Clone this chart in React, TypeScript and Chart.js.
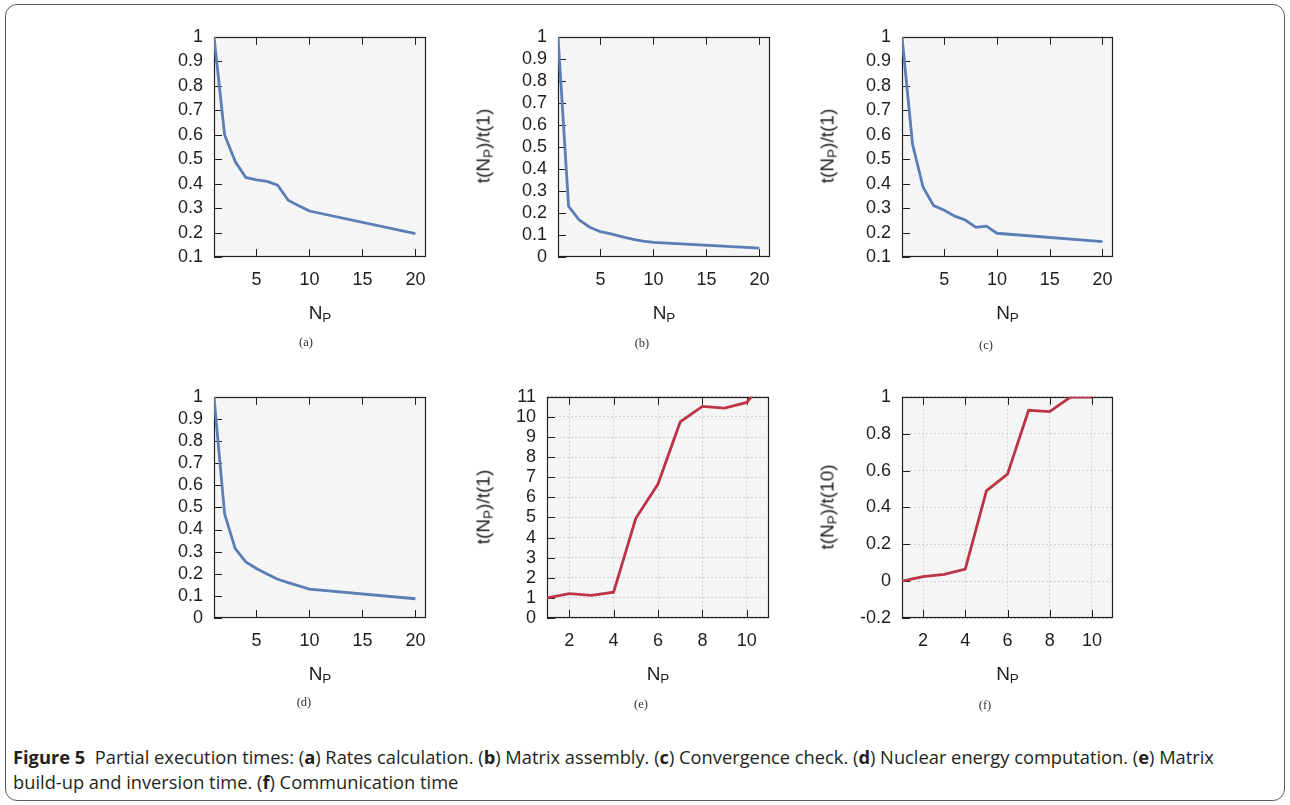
import React, { useEffect, useRef } from "react";
import { Chart, registerables } from "chart.js";

Chart.register(...registerables);

// ---------- data ----------
const NP_TO_20 = [1, 2, 3, 4, 5, 6, 7, 8, 9, 10, 20];
const RATES_CALC = [1.0, 0.6, 0.49, 0.425, 0.415, 0.409, 0.394, 0.332, 0.309, 0.288, 0.196];
const MATRIX_ASSEMBLY = [1.0, 0.23, 0.168, 0.135, 0.115, 0.105, 0.093, 0.081, 0.072, 0.066, 0.04];
const CONVERGENCE_CHECK = [1.0, 0.561, 0.385, 0.31, 0.291, 0.267, 0.251, 0.221, 0.226, 0.197, 0.163];
const NUCLEAR_ENERGY = [1.0, 0.471, 0.314, 0.254, 0.224, 0.199, 0.175, 0.16, 0.145, 0.131, 0.087];

const NP_TO_11 = [1, 2, 3, 4, 5, 6, 7, 8, 9, 10, 11];
const MATRIX_BUILDUP = [1.0, 1.21, 1.13, 1.28, 4.96, 6.66, 9.75, 10.52, 10.44, 10.72, 12.1];

const NP_TO_10 = [1, 2, 3, 4, 5, 6, 7, 8, 9, 10];
const COMMUNICATION = [0.0, 0.024, 0.037, 0.065, 0.49, 0.58, 0.927, 0.92, 1.0, 0.998];

const X_TICKS_20 = [5, 10, 15, 20];
const X_TICKS_10 = [2, 4, 6, 8, 10];
const Y_TICKS_01_1 = [0.1, 0.2, 0.3, 0.4, 0.5, 0.6, 0.7, 0.8, 0.9, 1];
const Y_TICKS_0_1 = [0, 0.1, 0.2, 0.3, 0.4, 0.5, 0.6, 0.7, 0.8, 0.9, 1];
const Y_TICKS_0_11 = [0, 1, 2, 3, 4, 5, 6, 7, 8, 9, 10, 11];
const Y_TICKS_M02_1 = [-0.2, 0, 0.2, 0.4, 0.6, 0.8, 1];

// ---------- style ----------
const BLUE = "#5a7eb5";
const RED = "#bc3445";
const PLOT_BG = "#f5f5f5";
const AXIS_COLOR = "#1e1e1e";
const GRID_COLOR = "#d2d2d2";
const TICK_LEN = 8;
const SANS = "'Liberation Sans', Arial, sans-serif";

const PAD_L = 95;
const PAD_T = 20;
const PAD_R = 20;
const PAD_B = 50;

type Panel = {
  id: string;
  xs: number[];
  ys: number[];
  color: string;
  xMin: number;
  xMax: number;
  yMin: number;
  yMax: number;
  xTicks: number[];
  yTicks: number[];
  grid: boolean;
  rect: [number, number, number, number];
  yDen: string | null;
  yTitleX: number;
  tag: string;
  tagPos: [number, number];
};

const PANELS: Panel[] = [
  { id: "a", xs: NP_TO_20, ys: RATES_CALC, color: BLUE, xMin: 1, xMax: 21, yMin: 0.1, yMax: 1, xTicks: X_TICKS_20, yTicks: Y_TICKS_01_1, grid: false, rect: [214, 35, 426, 257], yDen: null, yTitleX: 0, tag: "(a)", tagPos: [306, 342] },
  { id: "b", xs: NP_TO_20, ys: MATRIX_ASSEMBLY, color: BLUE, xMin: 1, xMax: 21, yMin: 0, yMax: 1, xTicks: X_TICKS_20, yTicks: Y_TICKS_0_1, grid: false, rect: [558, 35, 770, 257], yDen: "1", yTitleX: 483, tag: "(b)", tagPos: [642, 343] },
  { id: "c", xs: NP_TO_20, ys: CONVERGENCE_CHECK, color: BLUE, xMin: 1, xMax: 21, yMin: 0.1, yMax: 1, xTicks: X_TICKS_20, yTicks: Y_TICKS_01_1, grid: false, rect: [902, 35, 1113, 257], yDen: "1", yTitleX: 827, tag: "(c)", tagPos: [986, 345] },
  { id: "d", xs: NP_TO_20, ys: NUCLEAR_ENERGY, color: BLUE, xMin: 1, xMax: 21, yMin: 0, yMax: 1, xTicks: X_TICKS_20, yTicks: Y_TICKS_0_1, grid: false, rect: [214, 395, 426, 618], yDen: null, yTitleX: 0, tag: "(d)", tagPos: [304, 702] },
  { id: "e", xs: NP_TO_11, ys: MATRIX_BUILDUP, color: RED, xMin: 1, xMax: 11, yMin: 0, yMax: 11, xTicks: X_TICKS_10, yTicks: Y_TICKS_0_11, grid: true, rect: [547, 395, 769, 618], yDen: "1", yTitleX: 483, tag: "(e)", tagPos: [641, 704] },
  { id: "f", xs: NP_TO_10, ys: COMMUNICATION, color: RED, xMin: 1, xMax: 11, yMin: -0.2, yMax: 1, xTicks: X_TICKS_10, yTicks: Y_TICKS_M02_1, grid: true, rect: [902, 395, 1113, 618], yDen: "10", yTitleX: 827, tag: "(f)", tagPos: [985, 705] },
];

const fmt = (v: number) => String(Math.round(v * 10) / 10);

function decoPlugin(p: Panel) {
  return {
    id: "deco_" + p.id,
    beforeDraw(chart: any) {
      const { ctx, chartArea } = chart;
      const { left, top, right, bottom } = chartArea;
      ctx.save();
      ctx.fillStyle = PLOT_BG;
      ctx.fillRect(left, top, right - left, bottom - top);
      ctx.restore();
    },
    beforeDatasetsDraw(chart: any) {
      const { ctx, chartArea } = chart;
      const { left, top, right, bottom } = chartArea;
      const xs = chart.scales.x;
      const ys = chart.scales.y;
      ctx.save();
      ctx.strokeStyle = AXIS_COLOR;
      ctx.lineWidth = 1;
      ctx.beginPath();
      for (const v of p.xTicks) {
        const px = Math.round(xs.getPixelForValue(v)) + 0.5;
        ctx.moveTo(px, bottom);
        ctx.lineTo(px, bottom - TICK_LEN);
        ctx.moveTo(px, top);
        ctx.lineTo(px, top + TICK_LEN);
      }
      for (const v of p.yTicks) {
        const py = Math.round(ys.getPixelForValue(v)) + 0.5;
        ctx.moveTo(left, py);
        ctx.lineTo(left + TICK_LEN, py);
      }
      ctx.stroke();
      ctx.lineWidth = 1.2;
      ctx.strokeRect(Math.round(left) + 0.5, Math.round(top) + 0.5, Math.round(right - left) - 1, Math.round(bottom - top) - 1);
      ctx.restore();
    },
  };
}

function PanelChart({ p }: { p: Panel }) {
  const ref = useRef<HTMLCanvasElement>(null);
  const [L, T, R, B] = p.rect;
  const W = R - L + PAD_L + PAD_R;
  const H = B - T + PAD_T + PAD_B;

  useEffect(() => {
    const gridOpts = p.grid
      ? { display: true, drawOnChartArea: true, drawTicks: false, color: GRID_COLOR, lineWidth: 1 }
      : { display: false, drawTicks: false };
    const borderOpts = { display: false, dash: [2, 2] };
    const chart = new Chart(ref.current as HTMLCanvasElement, {
      type: "line",
      data: {
        datasets: [
          {
            data: p.xs.map((x, i) => ({ x, y: p.ys[i] })),
            borderColor: p.color,
            borderWidth: 2.8,
            pointRadius: 0,
            tension: 0,
            fill: false,
          },
        ],
      },
      options: {
        animation: false,
        responsive: false,
        devicePixelRatio: 1,
        events: [],
        layout: { autoPadding: false, padding: { left: 0, top: PAD_T, right: PAD_R, bottom: 0 } },
        plugins: { legend: { display: false }, tooltip: { enabled: false } },
        scales: {
          x: {
            type: "linear",
            min: p.xMin,
            max: p.xMax,
            afterBuildTicks: (s: any) => {
              s.ticks = p.xTicks.map((v) => ({ value: v }));
            },
            afterFit: (s: any) => {
              s.height = PAD_B;
            },
            grid: gridOpts as any,
            border: borderOpts as any,
            ticks: {
              autoSkip: false,
              maxRotation: 0,
              padding: 12,
              color: AXIS_COLOR,
              font: { family: SANS, size: 18 },
              callback: (v: any) => fmt(Number(v)),
            },
          },
          y: {
            type: "linear",
            min: p.yMin,
            max: p.yMax,
            afterBuildTicks: (s: any) => {
              s.ticks = p.yTicks.map((v) => ({ value: v }));
            },
            afterFit: (s: any) => {
              s.width = PAD_L;
            },
            grid: gridOpts as any,
            border: borderOpts as any,
            ticks: {
              autoSkip: false,
              padding: 11,
              color: AXIS_COLOR,
              font: { family: SANS, size: 18 },
              callback: (v: any) => fmt(Number(v)),
            },
          },
        },
      },
      plugins: [decoPlugin(p)],
    } as any);
    return () => chart.destroy();
  }, []);

  const cx = (L + R) / 2;
  const cy = (T + B) / 2;
  const titleFont: React.CSSProperties = {
    position: "absolute",
    fontFamily: SANS,
    fontSize: 19,
    color: AXIS_COLOR,
    whiteSpace: "nowrap",
    lineHeight: 1,
  };
  const subStyle: React.CSSProperties = { fontSize: 13.5, verticalAlign: "-3px", lineHeight: 0 };

  return (
    <>
      <canvas
        ref={ref}
        width={W}
        height={H}
        style={{ position: "absolute", left: L - PAD_L, top: T - PAD_T, width: W, height: H }}
      />
      <div style={{ ...titleFont, left: cx, top: B + 55, transform: "translate(-50%, -50%)" }}>
        N<span style={subStyle}>P</span>
      </div>
      {p.yDen !== null && (
        <div style={{ ...titleFont, left: p.yTitleX, top: cy, transform: "translate(-50%, -50%) rotate(-90deg)" }}>
          t(N<span style={subStyle}>P</span>)/t({p.yDen})
        </div>
      )}
      <div
        style={{
          position: "absolute",
          left: p.tagPos[0],
          top: p.tagPos[1],
          transform: "translate(-50%, -50%)",
          fontFamily: "'Liberation Serif', 'DejaVu Serif', serif",
          fontSize: 12.5,
          color: "#333",
          whiteSpace: "nowrap",
        }}
      >
        {p.tag}
      </div>
    </>
  );
}

export default function App() {
  return (
    <div style={{ position: "absolute", left: 0, top: 0, width: 1290, height: 805, background: "#fff", overflow: "hidden" }}>
      <div
        style={{
          position: "absolute",
          left: 5,
          top: 4,
          width: 1280,
          height: 797,
          border: "1.5px solid #5c5c5c",
          borderRadius: 12,
          boxSizing: "border-box",
        }}
      />
      {PANELS.map((p) => (
        <PanelChart key={p.id} p={p} />
      ))}
      <div
        style={{
          position: "absolute",
          left: 13,
          top: 744,
          fontFamily: "'Open Sans', 'Noto Sans', sans-serif",
          fontSize: 18.3,
          lineHeight: "25px",
          color: "#231f20",
          whiteSpace: "nowrap",
        }}
      >
        <b>Figure 5</b>&nbsp;&nbsp;Partial execution times: (<b>a</b>) Rates calculation. (<b>b</b>) Matrix assembly. (<b>c</b>) Convergence check. (<b>d</b>) Nuclear energy computation. (<b>e</b>) Matrix
        <br />
        build-up and inversion time. (<b>f</b>) Communication time
      </div>
    </div>
  );
}
